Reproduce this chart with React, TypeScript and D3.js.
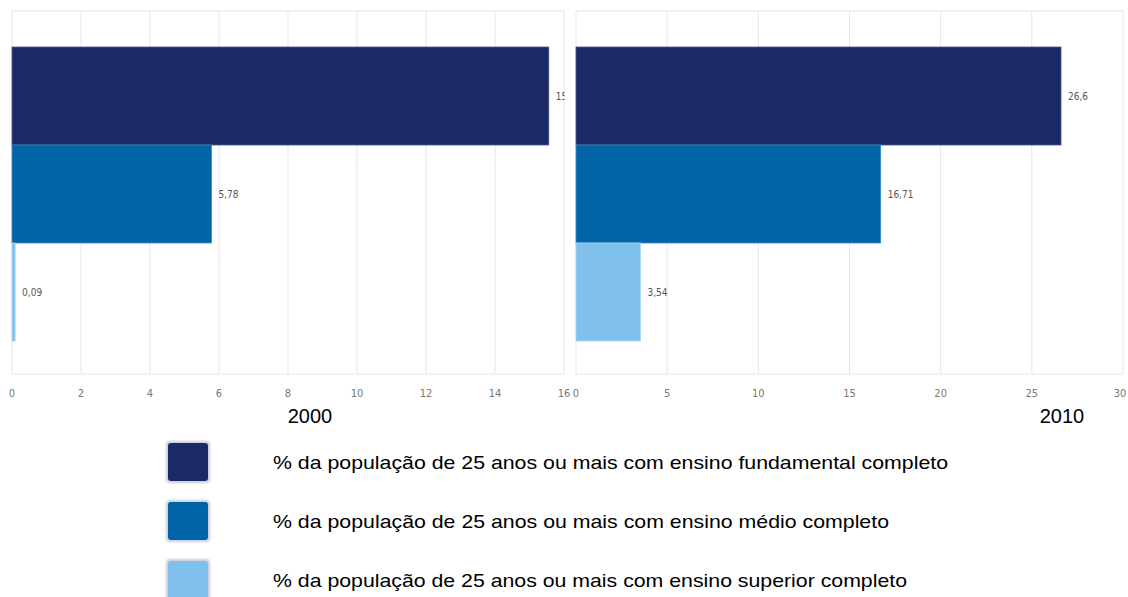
import React from "react";
import * as d3 from "d3";

const categories = ["fundamental", "medio", "superior"];
const values2000 = [15.56, 5.78, 0.09];
const values2010 = [26.6, 16.71, 3.54];
const ticks2000 = [0, 2, 4, 6, 8, 10, 12, 14, 16];
const ticks2010 = [0, 5, 10, 15, 20, 25, 30];
const years = ["2000", "2010"];
const legendLabels = [
  "% da população de 25 anos ou mais com ensino fundamental completo",
  "% da população de 25 anos ou mais com ensino médio completo",
  "% da população de 25 anos ou mais com ensino superior completo",
];
const colors = ["#1b2964", "#0064a6", "#7fc1eb"];
const strokes = ["#4a5a8e", "#3a8ac4", "#a9d6f3"];

const fmt = (v: number) => String(v).replace(".", ",");

const TICK_FONT = "'Liberation Sans Narrow', 'DejaVu Sans Condensed', 'DejaVu Sans', sans-serif";

function Panel({
  id,
  x0,
  x1,
  values,
  ticks,
  year,
  yearX,
}: {
  id: string;
  x0: number;
  x1: number;
  values: number[];
  ticks: number[];
  year: string;
  yearX: number;
}) {
  const top = 11;
  const bottom = 374;
  const x = d3.scaleLinear().domain([ticks[0], ticks[ticks.length - 1]]).range([x0, x1]);
  const y = d3.scaleBand<string>().domain(categories).range([47, 341]).padding(0);
  return (
    <g>
      <defs>
        <clipPath id={`clip-${id}`}>
          <rect x={x0} y={top} width={x1 - x0 + 0.5} height={bottom - top} />
        </clipPath>
      </defs>
      {ticks.map((t) => (
        <line key={t} x1={x(t)} x2={x(t)} y1={top} y2={bottom} stroke="#e6e6e6" strokeWidth={1} />
      ))}
      <line x1={x0} x2={x1} y1={top} y2={top} stroke="#e6e6e6" />
      <line x1={x0} x2={x1} y1={bottom} y2={bottom} stroke="#e6e6e6" />
      {values.map((v, i) => (
        <rect
          key={i}
          x={x(0)}
          y={y(categories[i])!}
          width={x(v) - x(0)}
          height={y.bandwidth()}
          fill={colors[i]}
          stroke={strokes[i]}
          strokeWidth={0.8}
        />
      ))}
      <g clipPath={`url(#clip-${id})`}>
        {values.map((v, i) => (
          <text
            key={i}
            x={x(v) + 7}
            y={y(categories[i])! + y.bandwidth() / 2}
            dy="0.35em"
            fontSize={10}
            fontFamily={TICK_FONT}
            fill="#555"
          >
            {fmt(v)}
          </text>
        ))}
      </g>
      {ticks.map((t) => (
        <text
          key={t}
          x={Math.min(x(t), 1120)}
          y={393}
          dy="0.35em"
          textAnchor="middle"
          fontSize={11}
          fontFamily={TICK_FONT}
          fill="#777"
        >
          {t}
        </text>
      ))}
      <text x={yearX} y={423} textAnchor="middle" fontSize={20} fontFamily="'Liberation Sans', Arial, sans-serif" fill="#000">
        {year}
      </text>
    </g>
  );
}

export default function App() {
  const legendY = [462, 521, 580];
  return (
    <svg
      width={1128}
      height={597}
      style={{ position: "absolute", left: 0, top: 0, background: "#fff" }}
    >
      <defs>
        <filter id="soft" x="-20%" y="-20%" width="140%" height="140%">
          <feGaussianBlur stdDeviation="1.2" />
        </filter>
      </defs>
      <rect width={1128} height={597} fill="#fff" />
      <Panel id="a" x0={12} x1={564} values={values2000} ticks={ticks2000} year={years[0]} yearX={310} />
      <Panel id="b" x0={576} x1={1123} values={values2010} ticks={ticks2010} year={years[1]} yearX={1062} />
      {legendLabels.map((l, i) => (
        <g key={i}>
          <rect
            x={166}
            y={legendY[i] - 21}
            width={44}
            height={42}
            rx={4}
            fill="#c9cede"
            filter="url(#soft)"
          />
          <rect x={168} y={legendY[i] - 19} width={40} height={38} rx={3} fill={colors[i]} />
          <text
            x={273}
            y={legendY[i]}
            dy="0.35em"
            fontSize={19}
            textLength={i === 0 ? 675 : i === 1 ? 616 : 634}
            lengthAdjust="spacingAndGlyphs"
            fontFamily="'Liberation Sans', Arial, sans-serif"
            fill="#000"
          >
            {l}
          </text>
        </g>
      ))}
    </svg>
  );
}
